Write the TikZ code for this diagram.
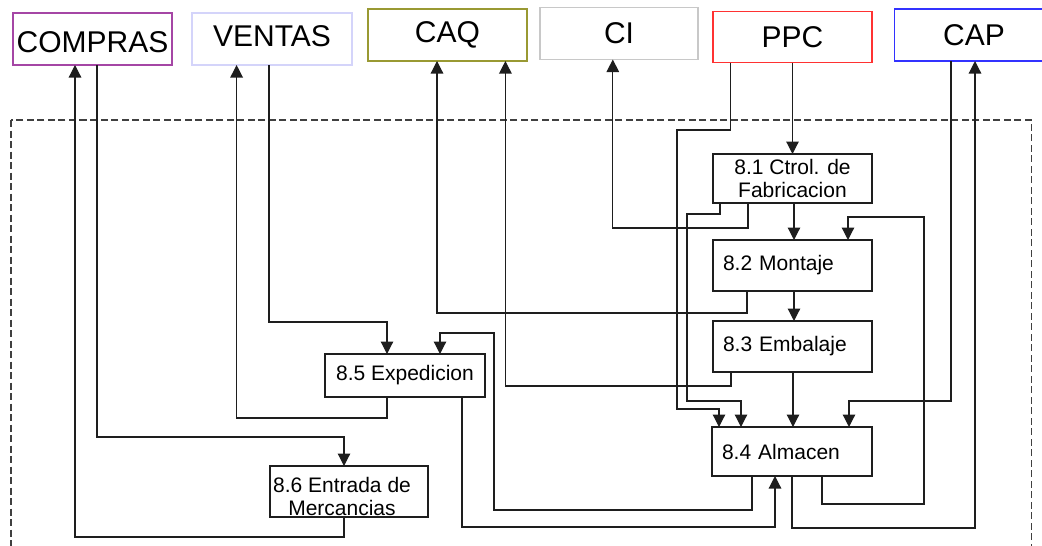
\documentclass[tikz,border=0pt]{standalone}
\usepackage{fontspec}
\setmainfont{Liberation Sans}
\usetikzlibrary{arrows.meta}

\definecolor{cCompras}{RGB}{165,70,165}
\definecolor{cVentas}{RGB}{212,212,250}
\definecolor{cCaq}{RGB}{153,153,51}
\definecolor{cCi}{RGB}{200,200,200}
\definecolor{cPpc}{RGB}{255,50,50}
\definecolor{cCap}{RGB}{50,50,255}
\definecolor{ink}{RGB}{30,30,30}

\tikzset{
  extbox/.style={draw, line width=1.4pt, anchor=north west, inner sep=0pt, outer sep=0pt,
    minimum width=159pt, minimum height=52pt, font=\fontsize{30}{36}\selectfont},
  procbox/.style={draw=ink, line width=1.3pt, anchor=north west, inner sep=0pt, outer sep=0pt,
    minimum width=159pt, font=\fontsize{21}{23}\selectfont},
  leftbox/.style={procbox, inner xsep=10pt, text width=139pt, align=left},
  arr/.style={draw=ink, line width=1.2pt, -{Triangle[length=12.5pt,width=12.5pt]}},
  frame/.style={draw=ink!85, line width=1.2pt, dash pattern=on 7pt off 3.5pt}
}

\begin{document}
\begin{tikzpicture}[x=1pt,y=-1pt]
\useasboundingbox (0,0) rectangle (1042,546);
\clip (0,0) rectangle (1042,546);

% system boundary
\draw[frame] (11,120) rectangle (1031.5,560);

% external departments
\node[extbox, draw=cCompras, text height=27.5pt, text depth=0pt] (compras) at (13,13) {COMPRAS};
\node[extbox, draw=cVentas, minimum width=160pt, text height=21.5pt, text depth=7pt] (ventas) at (192,13) {VENTAS};
\node[extbox, draw=cCaq] (caq) at (368,9) {CAQ};
\node[extbox, draw=cCi, minimum width=158pt] (ci) at (540,7.5) {CI};
\node[extbox, draw=cPpc, minimum height=51pt] (ppc) at (713,11.5) {PPC};
\node[extbox, draw=cCap] (cap) at (894.5,9) {CAP};

% processes
\node[procbox, minimum height=49pt, align=center] (n81) at (713,154) {8.1 Ctrol. de\\Fabricacion};
\node[leftbox, minimum height=51pt] (n82) at (713,240) {8.2 Montaje};
\node[leftbox, minimum height=51pt] (n83) at (713,321) {8.3 Embalaje};
\node[leftbox, minimum width=160pt, text width=140pt, minimum height=49pt] (n84) at (712,427) {8.4 Almacen};
\node[procbox, minimum width=160pt, minimum height=43pt] (n85) at (325,354) {8.5 Expedicion};
\node[procbox, minimum width=158pt, minimum height=51pt, align=center, text height=48pt] (n86) at (270,466)
  {8.6 Entrada de\hspace*{14pt}\\Mercancias\hspace*{14pt}};

% flows between COMPRAS and 8.6
\draw[arr] ([xshift=74pt]n86.south west) -- ++(0,20) -| ([xshift=62pt]compras.south west);
\draw[arr] ([xshift=84pt]compras.south west) -- (97,437) -| ([xshift=74pt]n86.north west);

% flows between VENTAS and 8.5
\draw[arr] ([xshift=62pt]n85.south west) -- (387,418) -| ([xshift=44.6pt]ventas.south west);
\draw[arr] ([xshift=77pt]ventas.south west) -- (269,322) -| ([xshift=62pt]n85.north west);

% flows between 8.4 and 8.5
\draw[arr] ([xshift=40pt]n84.south west) -- (752,510) -- (494,510) -- (494,333) -| ([xshift=115pt]n85.north west);
\draw[arr] ([xshift=137pt]n85.south west) -- (462,527) -| ([xshift=63pt]n84.south west);

% reports to CAQ and CI
\draw[arr] ([xshift=34pt]n82.south west) -- (747,313) -| ([xshift=69pt]caq.south west);
\draw[arr] ([xshift=18pt]n83.south west) -- (731,386) -| ([xshift=137.4pt]caq.south west);
\draw[arr] ([xshift=35pt]n81.south west) -- (748,228) -| ([xshift=72.8pt]ci.south west);

% PPC orders
\draw[arr] (ppc.south) -- (n81.north);
\draw[arr] ([xshift=17.6pt]ppc.south west) -- (730.6,130) -- (677,130) -- (677,409) -| ([xshift=7pt]n84.north west);

% main production chain
\draw[arr] ([xshift=7pt]n81.south west) -- (720,214) -- (687,214) -- (687,401) -| ([xshift=29pt]n84.north west);
\draw[arr] ([xshift=81pt]n81.south west) -- ([xshift=81pt]n82.north west);
\draw[arr] ([xshift=81pt]n82.south west) -- ([xshift=81pt]n83.north west);
\draw[arr] ([xshift=80pt]n83.south west) -- ([xshift=81pt]n84.north west);
\draw[arr] ([xshift=110pt]n84.south west) -- (822,504) -- (924,504) -- (924,217) -| ([xshift=135pt]n82.north west);

% flows between CAP and 8.4
\draw[arr] ([xshift=56.5pt]cap.south west) -- (951,401) -| ([xshift=137pt]n84.north west);
\draw[arr] ([xshift=80pt]n84.south west) -- (792,528) -| ([xshift=80.5pt]cap.south west);
\end{tikzpicture}
\end{document}
